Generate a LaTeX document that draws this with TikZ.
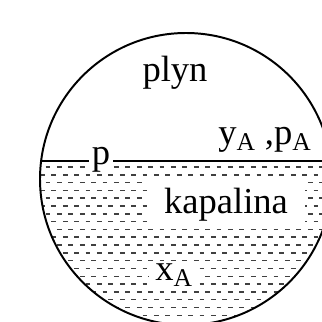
\documentclass[tikz,border=0pt]{standalone}
\usepackage{fontspec}
\setmainfont{Liberation Serif}
\usepackage{tikz}
\usetikzlibrary{calc}

\tikzset{
  lbl/.style={font=\fontsize{26}{30}\selectfont, inner sep=0pt},
  gap/.style={lbl, fill=white},
  liquid/.style={black!75, line width=1pt, dash pattern=on 0.12cm off 0.165cm}
}

\begin{document}
\begin{tikzpicture}
          \useasboundingbox (0,0) rectangle (8.05,8.05);
          \clip (0,0) rectangle (8.05,8.05);
          \coordinate (c) at (4.65,3.575);
          % liquid hatching
          \begin{scope}
            \clip (c) circle (3.65cm);
            \foreach \i in {0,...,20}{
              \pgfmathsetmacro{\yy}{3.875-0.195*\i}
              \pgfmathsetmacro{\ph}{mod(\i,2)*0.14}
              \draw[liquid, dash phase=\ph cm] (0,\yy) -- (8.05,\yy);
            }
            \draw[line width=1.4pt] (0,4.025) -- (8.05,4.025);
          \end{scope}
          \draw[line width=1.4pt] (c) circle (3.65cm);
          \node[lbl, anchor=base] (plyn) at (4.375,6.0) {plyn};
          \node[lbl, anchor=base west] (yA) at (5.45,4.425)
            {y\textsubscript{A} ,p\textsubscript{A}};
          \node[gap, anchor=mid, inner xsep=2pt] (p) at (2.525,4.025) {p};
          \node[gap, minimum width=3.95cm, minimum height=1.175cm]
            (kap) at (5.65,2.94) {kapalina};
          \node[gap, minimum width=1.25cm, minimum height=0.65cm]
            (xA) at (4.35,1.175) {x\textsubscript{A}};
        \end{tikzpicture}
\end{document}
